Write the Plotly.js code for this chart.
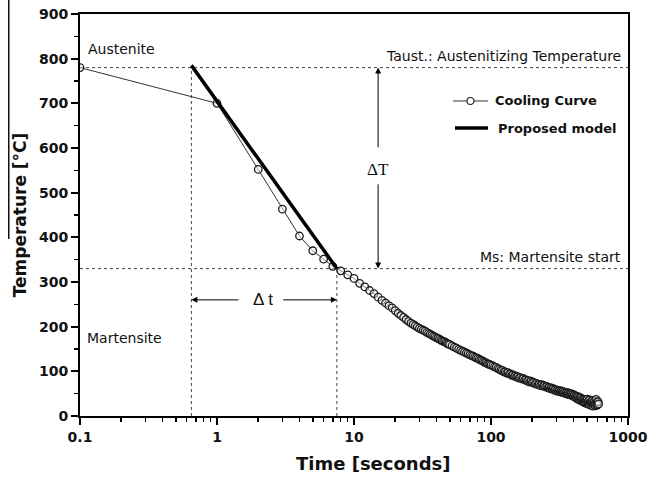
<!DOCTYPE html>
<html><head><meta charset="utf-8">
<script src="https://cdn.plot.ly/plotly-3.0.1.min.js"></script>
<style>html,body{margin:0;padding:0;background:#fff}#chart{width:649px;height:477px}</style>
</head><body><div id="chart"></div>
<script>
// Cooling curve (time in s, temperature in °C)
const coolTime = [0.1,1,2,3,4,5,6,7,8,9,10,11,12,13,14,15,16,17,18,19,20,21,22,23,24,25,26,27,28,29,30,
 31,32,33,34,35,36,37,38,39,40,41,42,43,44,45,46,47,48,49,50,52,54,56,58,60,62,64,66,68,70,
 72,74,76,78,80,82,84,86,88,90,92,94,96,98,100,
 103,106,109,112,115,118,121,124,127,130,133,136,139,142,145,148,151,154,157,160,
 164,168,172,176,180,184,188,192,196,200,205,210,215,220,225,230,235,240,245,250,
 255,260,265,270,275,280,285,290,295,300,305,310,315,320,325,330,335,340,345,350,
 355,360,365,370,375,380,385,390,395,400,405,410,415,420,425,430,435,440,445,450,
 455,460,465,470,475,480,485,490,495,500,505,510,515,520,525,530,535,540,545,550,
 555,560,565,570,575,580,585,590,595,600,605,610];
const coolTemp = [780,700,552,463,403,370,351,335,325,316,308,297,289,281,274,266,259,253,247,242,236,230,225,221,216,212,208,205,202,199,196,
 194,192,190,187,185,183,181,179,177,175,174,172,170,168,167,166,164,162,161,160,157,154,152,149,147,145,143,141,139,137,
 135,134,132,130,129,127,125,124,122,120,119,117,116,115,114,
 112,110,109,106,105,102,102,99,99,96,97,94,94,91,92,89,90,87,88,85,
 86,83,84,81,81,78,79,76,78,75,75,72,73,70,71,68,70,67,68,65,
 66,63,64,61,63,60,61,58,59,56,58,55,57,54,56,53,55,52,53,50,
 52,49,52,48,50,47,50,46,48,44,47,42,45,40,44,38,43,36,41,35,
 40,33,38,32,37,30,36,29,35,28,38,27,34,26,36,30,24,33,27,35,
 22,31,26,34,23,29,37,24,31,25,32,27];
// Proposed model (linear in log time)
const modelTime = [0.65, 7.5];
const modelTemp = [785, 330];
// Reference levels
const Taust = 780, Ms = 330, tStart = 0.65, tMs = 7.5;
const xTickVals = [0.1,1,10,100,1000];
const xTickText = ['0.1','1','10','100','1000'];
const xMinor = [];
[0.1,1,10,100].forEach(d=>{for(let k=2;k<=9;k++) xMinor.push(+(d*k).toPrecision(3));});

const dotStyle = {color:'#444', width:1, dash:'dot'};
const traces = [
 {x:[0.1,1000], y:[Taust,Taust], mode:'lines', line:dotStyle, showlegend:false, hoverinfo:'skip'},
 {x:[0.1,1000], y:[Ms,Ms], mode:'lines', line:dotStyle, showlegend:false, hoverinfo:'skip'},
 {x:[tStart,tStart], y:[0,Taust], mode:'lines', line:dotStyle, showlegend:false, hoverinfo:'skip'},
 {x:[tMs,tMs], y:[0,Ms], mode:'lines', line:dotStyle, showlegend:false, hoverinfo:'skip'},
 {x:coolTime, y:coolTemp, name:'Cooling Curve', mode:'lines+markers', showlegend:false,
  line:{color:'#333', width:1},
  marker:{symbol:'circle', size:7.5, color:'rgba(255,255,255,0.45)', line:{color:'#1a1a1a', width:1.3}}},
 {x:modelTime, y:modelTemp, name:'Proposed model', mode:'lines', showlegend:false, line:{color:'#000', width:3.5}}
];

const lg = v => Math.log10(v);
const arrowT = 15, dtY = 260;
const arr = (x,y,ax,ay) => ({x:lg(x), y:y, ax:lg(ax), ay:ay, xref:'x', yref:'y', axref:'x', ayref:'y',
  text:'', showarrow:true, arrowhead:2, arrowsize:1.2, arrowwidth:1, arrowcolor:'#000'});
const txt = (s,x,y,anchor,font) => ({text:s, x:x, y:y, xref:'paper', yref:'paper', xanchor:anchor, yanchor:'middle', showarrow:false, font:font});
const FAM = 'DejaVu Sans, Arial, sans-serif';
const sans = {family:FAM, size:14, color:'#111'};
const legFont = {family:FAM, size:13, weight:'bold', color:'#111'};

const layout = {
 width:649, height:477,
 margin:{l:80, r:21, t:14, b:61},
 paper_bgcolor:'#fff', plot_bgcolor:'#fff',
 font:{family:FAM, color:'#111'},
 showlegend:false,
 xaxis:{type:'log', range:[-1,3], tickmode:'array', tickvals:xTickVals, ticktext:xTickText,
   ticks:'outside', ticklen:7, tickwidth:2, tickcolor:'#000',
   minor:{tickmode:'array', tickvals:xMinor, ticks:'outside', ticklen:4, tickwidth:1.5, tickcolor:'#000'},
   showline:true, linewidth:2, linecolor:'#000', mirror:true, showgrid:false, zeroline:false,
   tickfont:{size:14, family:FAM, weight:'bold', color:'#111'}},
 yaxis:{range:[0,900], dtick:100, ticks:'outside', ticklen:7, tickwidth:2, tickcolor:'#000',
   minor:{dtick:50, ticks:'outside', ticklen:4, tickwidth:1.5, tickcolor:'#000'},
   showline:true, linewidth:2, linecolor:'#000', mirror:true, showgrid:false, zeroline:false,
   tickfont:{size:14, family:FAM, weight:'bold', color:'#111'},
   title:{text:'Temperature [°C]', standoff:8, font:{size:17, weight:'bold', family:FAM, color:'#111'}}},
 shapes:[
  {type:'line', xref:'paper', yref:'paper', x0:-0.13, x1:-0.13, y0:1.035, y1:0.44, line:{color:'#111', width:1.5}},
  // manual legend
  {type:'line', xref:'paper', yref:'paper', x0:0.6807, x1:0.7445, y0:0.7836, y1:0.7836, line:{color:'#333', width:1}},
  {type:'circle', xref:'paper', yref:'paper', xsizemode:'pixel', ysizemode:'pixel', xanchor:0.7126, yanchor:0.7836,
   x0:-3.5, x1:3.5, y0:-3.5, y1:3.5, fillcolor:'#fff', line:{color:'#222', width:1.1}},
  {type:'line', xref:'paper', yref:'paper', x0:0.6843, x1:0.7445, y0:0.7164, y1:0.7164, line:{color:'#000', width:3.5}}
 ],
 annotations:[
  arr(arrowT, Taust, arrowT, 598),
  arr(arrowT, Ms, arrowT, 522),
  arr(tStart, dtY, 1.47, dtY),
  arr(tMs, dtY, 2.97, dtY),
  txt('Cooling Curve', 0.7536, 0.7836, 'left', legFont),
  txt('Proposed model', 0.759, 0.7164, 'left', legFont),
  txt('Austenite', 0.011, 0.913, 'left', sans),
  txt('Martensite', 0.009, 0.194, 'left', sans),
  txt('Taust.: Austenitizing Temperature', 0.991, 0.896, 'right', sans),
  txt('Ms: Martensite start', 0.991, 0.396, 'right', sans),
  txt('ΔT', 0.544, 0.612, 'center', {family:'Liberation Serif, Times New Roman, serif', size:17, color:'#111'}),
  txt('Δ t', 0.334, 0.289, 'center', {family:'Liberation Sans, Arial, sans-serif', size:17, color:'#111'}),
  {text:'Time [seconds]', x:0.535, y:-0.117, xref:'paper', yref:'paper', xanchor:'center', yanchor:'middle', showarrow:false,
   font:{size:18, weight:'bold', family:FAM, color:'#111'}}
 ]
};
Plotly.newPlot('chart', traces, layout, {displayModeBar:false, staticPlot:true});
</script></body></html>
